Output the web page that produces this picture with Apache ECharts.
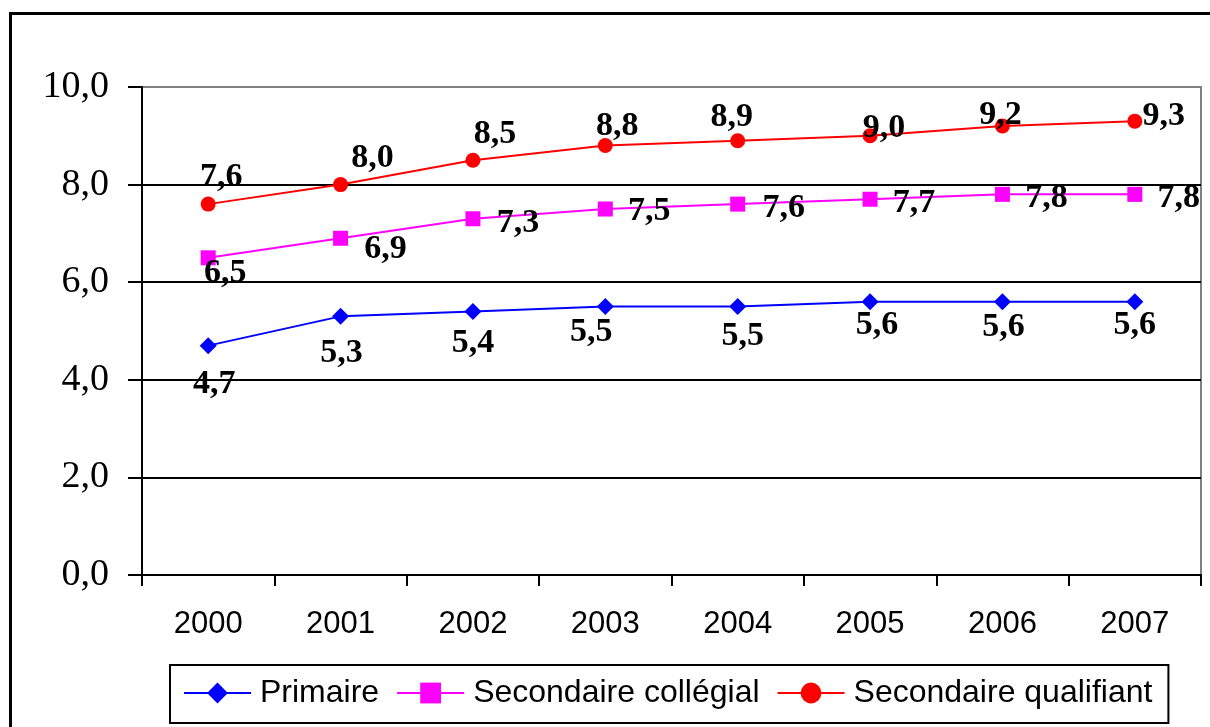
<!DOCTYPE html>
<html>
<head>
<meta charset="utf-8">
<script src="https://cdn.jsdelivr.net/npm/echarts@6/dist/echarts.min.js"></script>
<style>
  html, body { margin: 0; padding: 0; background: #fff; }
  #chart { width: 1210px; height: 727px; }
</style>
</head>
<body>
<div id="chart"></div>
<script>
// Years on the horizontal axis
const years = ['2000', '2001', '2002', '2003', '2004', '2005', '2006', '2007'];

// Values per level of schooling
const primaire = [4.7, 5.3, 5.4, 5.5, 5.5, 5.6, 5.6, 5.6];
const secondaireCollegial = [6.5, 6.9, 7.3, 7.5, 7.6, 7.7, 7.8, 7.8];
const secondaireQualifiant = [7.6, 8.0, 8.5, 8.8, 8.9, 9.0, 9.2, 9.3];

// Vertical axis range
const yMin = 0, yMax = 10, yStep = 2;

// French decimal comma, one decimal place
const fmt = v => Number(v).toFixed(1).replace('.', ',');

// Where each value label sits relative to its marker (dx, dy in px)
const labelShift = {
  primaire:   [[6, 39], [1, 37], [0, 32], [-14, 26], [5, 30], [7, 23], [1, 25], [0, 23]],
  collegial:  [[17, 15], [45, 11], [45, 4], [44, 2], [46, 4], [44, 4], [44, 4], [44, 4]],
  qualifiant: [[13, -27], [32, -26], [22, -26], [12, -19], [-6, -23], [14, -8], [-2, -11], [29, -5]]
};

const labelFont = {
  fontFamily: '"Liberation Serif", "Times New Roman", serif',
  fontWeight: 'bold',
  fontSize: 34,
  color: '#000'
};

function withLabels(values, shifts) {
  return values.map((v, i) => ({
    value: v,
    label: { offset: shifts[i] }
  }));
}

function lineSeries(name, values, shifts, color, symbol, size) {
  return {
    name: name,
    type: 'line',
    data: withLabels(values, shifts),
    symbol: symbol,
    symbolSize: size,
    showAllSymbol: true,
    lineStyle: { color: color, width: 2 },
    itemStyle: { color: color },
    label: Object.assign({
      show: true,
      position: 'inside',
      formatter: p => fmt(p.value)
    }, labelFont),
    emphasis: { disabled: true },
    animation: false,
    z: 3
  };
}

const chart = echarts.init(document.getElementById('chart'), null, { renderer: 'canvas' });

chart.setOption({
  backgroundColor: '#fff',
  animation: false,
  graphic: [{
    type: 'rect',
    shape: { x: 10.5, y: 13.5, width: 1400, height: 900 },
    style: { fill: 'none', stroke: '#000', lineWidth: 3 },
    silent: true,
    z: 0
  }],
  grid: {
    left: 142, top: 87, right: 9, bottom: 152,
    show: true,
    borderColor: '#808080',
    borderWidth: 2,
    backgroundColor: 'transparent',
    containLabel: false
  },
  legend: {
    data: ['Primaire', 'Secondaire collégial', 'Secondaire qualifiant'],
    left: 170,
    top: 665,
    orient: 'horizontal',
    itemWidth: 67,
    itemHeight: 26,
    itemGap: 17,
    padding: [12, 16, 14, 13],
    borderColor: '#000',
    borderWidth: 2,
    backgroundColor: '#fff',
    textStyle: {
      fontFamily: '"Liberation Sans", Arial, sans-serif',
      fontSize: 32,
      color: '#000',
      padding: [0, 0, 0, 4]
    },
    selectedMode: false
  },
  xAxis: {
    type: 'category',
    data: years,
    boundaryGap: true,
    axisLine: { show: true, lineStyle: { color: '#000', width: 2 } },
    axisTick: { show: true, length: 11, inside: false, alignWithLabel: false,
                lineStyle: { color: '#000', width: 2 } },
    axisLabel: {
      margin: 34,
      fontFamily: '"Liberation Sans", Arial, sans-serif',
      fontSize: 31,
      color: '#000'
    },
    splitLine: { show: false }
  },
  yAxis: {
    type: 'value',
    min: yMin,
    max: yMax,
    interval: yStep,
    axisLine: { show: true, lineStyle: { color: '#000', width: 2 } },
    axisTick: { show: true, length: 14, inside: false, lineStyle: { color: '#000', width: 2 } },
    axisLabel: {
      margin: 33,
      formatter: fmt,
      fontFamily: '"Liberation Serif", "Times New Roman", serif',
      fontSize: 38,
      color: '#000'
    },
    splitLine: {
      show: true,
      lineStyle: { color: ['#000', '#000', '#000', '#000', '#000', '#808080'], width: 2 }
    }
  },
  series: [
    lineSeries('Primaire', primaire, labelShift.primaire, '#0000ff', 'diamond', 17),
    lineSeries('Secondaire collégial', secondaireCollegial, labelShift.collegial, '#ff00ff', 'rect', 15),
    lineSeries('Secondaire qualifiant', secondaireQualifiant, labelShift.qualifiant, '#ff0000', 'circle', 15)
  ]
});
</script>
</body>
</html>
